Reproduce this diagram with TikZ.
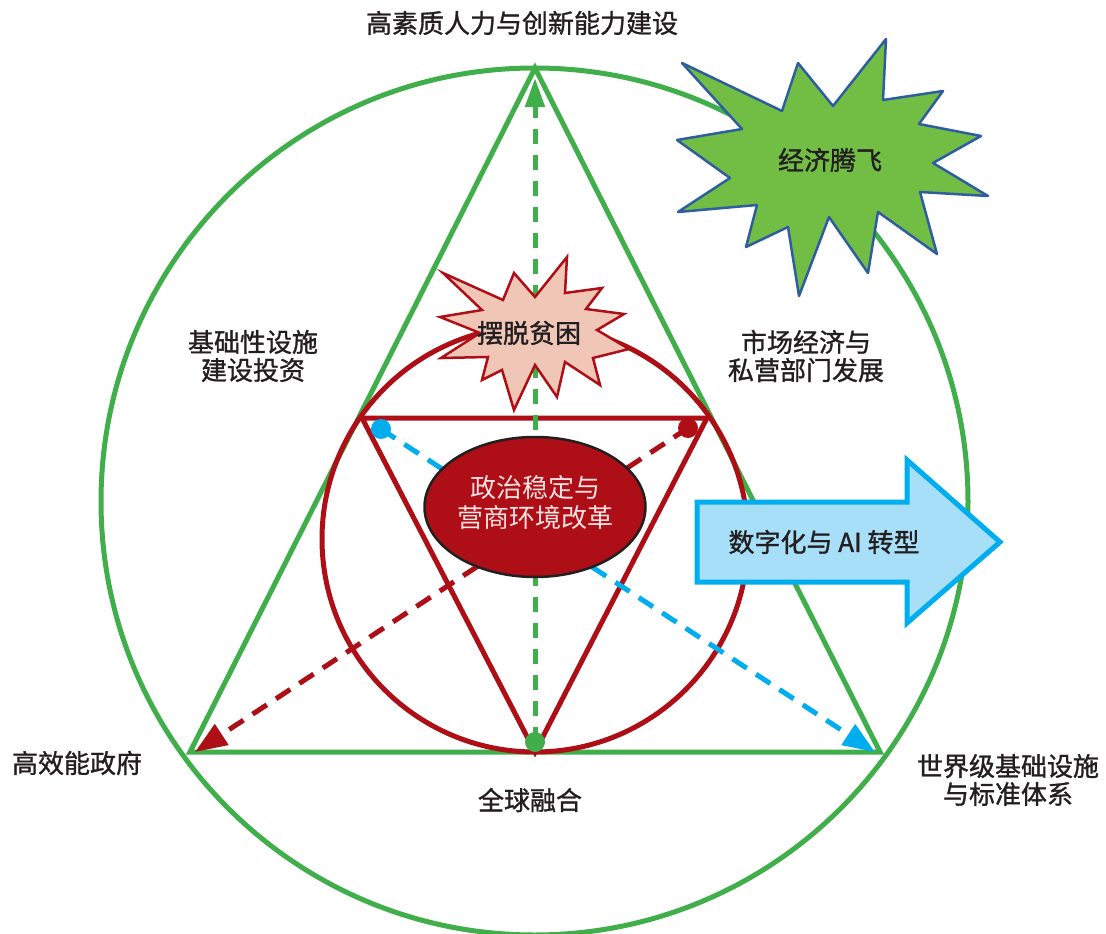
\documentclass[tikz,border=0pt]{standalone}
\usepackage{fontspec}
\newfontfamily\cjk{Noto Sans CJK SC}
\newfontfamily\cjkmed{Noto Sans CJK SC}[FakeBold=1.2]
\usetikzlibrary{arrows.meta,shapes.geometric}
\definecolor{gLine}{RGB}{64,174,74}
\definecolor{rLine}{RGB}{174,14,22}
\definecolor{bLine}{RGB}{0,174,239}
\definecolor{starG}{RGB}{114,190,68}
\definecolor{starGb}{RGB}{46,94,160}
\definecolor{starP}{RGB}{240,199,183}
\definecolor{arrowFill}{RGB}{168,223,248}
\definecolor{txt}{RGB}{35,31,32}
\definecolor{elTxt}{RGB}{250,226,226}
\tikzset{
  greenline/.style={draw=gLine, line width=5pt},
  redline/.style={draw=rLine, line width=5pt},
  gdash/.style={draw=gLine, line width=5pt, dash pattern=on 15pt off 11pt, -{Triangle[length=29pt,width=19pt]}},
  rdash/.style={draw=rLine, line width=5pt, dash pattern=on 17pt off 11pt, -{Triangle[length=32pt,width=24pt]}},
  bdash/.style={draw=bLine, line width=5pt, dash pattern=on 17pt off 11pt, -{Triangle[length=32pt,width=24pt]}},
  dotnode/.style={circle, inner sep=0pt, minimum size=20pt},
  lbl/.style={font=\cjkmed\fontsize{26}{28}\selectfont, text=txt, align=center, inner sep=0pt},
}
\begin{document}
\begin{tikzpicture}[x=1pt,y=-1pt]
\useasboundingbox (0,0) rectangle (1106,934);
% outer circle and triangle
\draw[greenline] (534.5,501.5) circle[radius=433.5];
\coordinate (T) at (535,68);
\coordinate (BL) at (190,752);
\coordinate (BR) at (880,752);
\draw[greenline, line join=miter] (T) -- (BL) -- (BR) -- cycle;
% inner red circle and inverted triangle
\draw[redline] (535,539) circle[radius=213];
\coordinate (RL) at (362,418);
\coordinate (RR) at (707,418);
\coordinate (RB) at (535,752);
\draw[redline, line join=miter] (RL) -- (RR) -- (RB) -- cycle;
% dots
\node[dotnode, fill=gLine] (gdot) at (535,742) {};
\node[dotnode, fill=bLine] (bdot) at (381,429) {};
\node[dotnode, fill=rLine] (rdot) at (688,428) {};
\coordinate (gtip) at (535,78);
\coordinate (rtip) at (195,752);
\coordinate (btip) at (875,752);
% dashed arrows
\draw[gdash] (gdot.center) -- (gtip);
\draw[rdash] (rdot.center) -- (rtip);
\draw[bdash] (bdot.center) -- (btip);
% central ellipse
\node[ellipse, draw=txt, line width=2.5pt, fill=rLine, minimum width=221pt, minimum height=140pt, inner sep=0pt] (core) at (535,507) {};
\node[font=\cjk\fontsize{26}{30}\selectfont, text=elTxt, align=center, inner sep=0pt] (coretxt) at (535,503) {政治稳定与\\营商环境改革};
% pink starburst
\draw[draw=rLine, fill=starP, line width=2.5pt, line join=miter]
  (443,273) -- (503,300) -- (514,273) -- (535,297) -- (567,257) -- (565,293) -- (602,288) -- (586,309) -- (624,314) -- (597,330) -- (629,349) -- (593,358) -- (600,385) -- (565,362) -- (557,397) -- (535,365) -- (514,410) -- (502,370) -- (482,380) -- (488,357) -- (441,358) -- (480,333) -- (440,317) -- (482,310) -- cycle;
\node[lbl] (poverty) at (529,333) {摆脱贫困};
% green starburst
\draw[draw=starGb, fill=starG, line width=2.5pt, line join=round]
  (682,63) -- (782,111) -- (798,63) -- (833,106) -- (886,39) -- (883,100) -- (943,91) -- (919,124) -- (981,136) -- (933,163) -- (988,196) -- (920,192) -- (937,254) -- (878,212) -- (868,273) -- (829,217) -- (799,296) -- (788,227) -- (746,247) -- (757,205) -- (678,212) -- (730,178) -- (677,140) -- (742,129) -- cycle;
\node[lbl] (boom) at (830,160) {经济腾飞};
% blue arrow
\draw[draw=bLine, fill=arrowFill, line width=5pt, line join=miter]
  (697,502) -- (907,502) -- (907,460) -- (1000,542) -- (907,623) -- (907,582) -- (697,582) -- cycle;
\node[lbl] (digital) at (824,542) {数字化与 AI 转型};
% labels
\node[lbl] (top) at (522,23) {高素质人力与创新能力建设};
\node[lbl] (lmid) at (253,356) {基础性设施\\建设投资};
\node[lbl] (rmid) at (806,356) {市场经济与\\私营部门发展};
\node[lbl] (lbot) at (77,763) {高效能政府};
\node[lbl] (rbot) at (1008,780) {世界级基础设施\\与标准体系};
\node[lbl] (bot) at (530,800) {全球融合};
\end{tikzpicture}
\end{document}
